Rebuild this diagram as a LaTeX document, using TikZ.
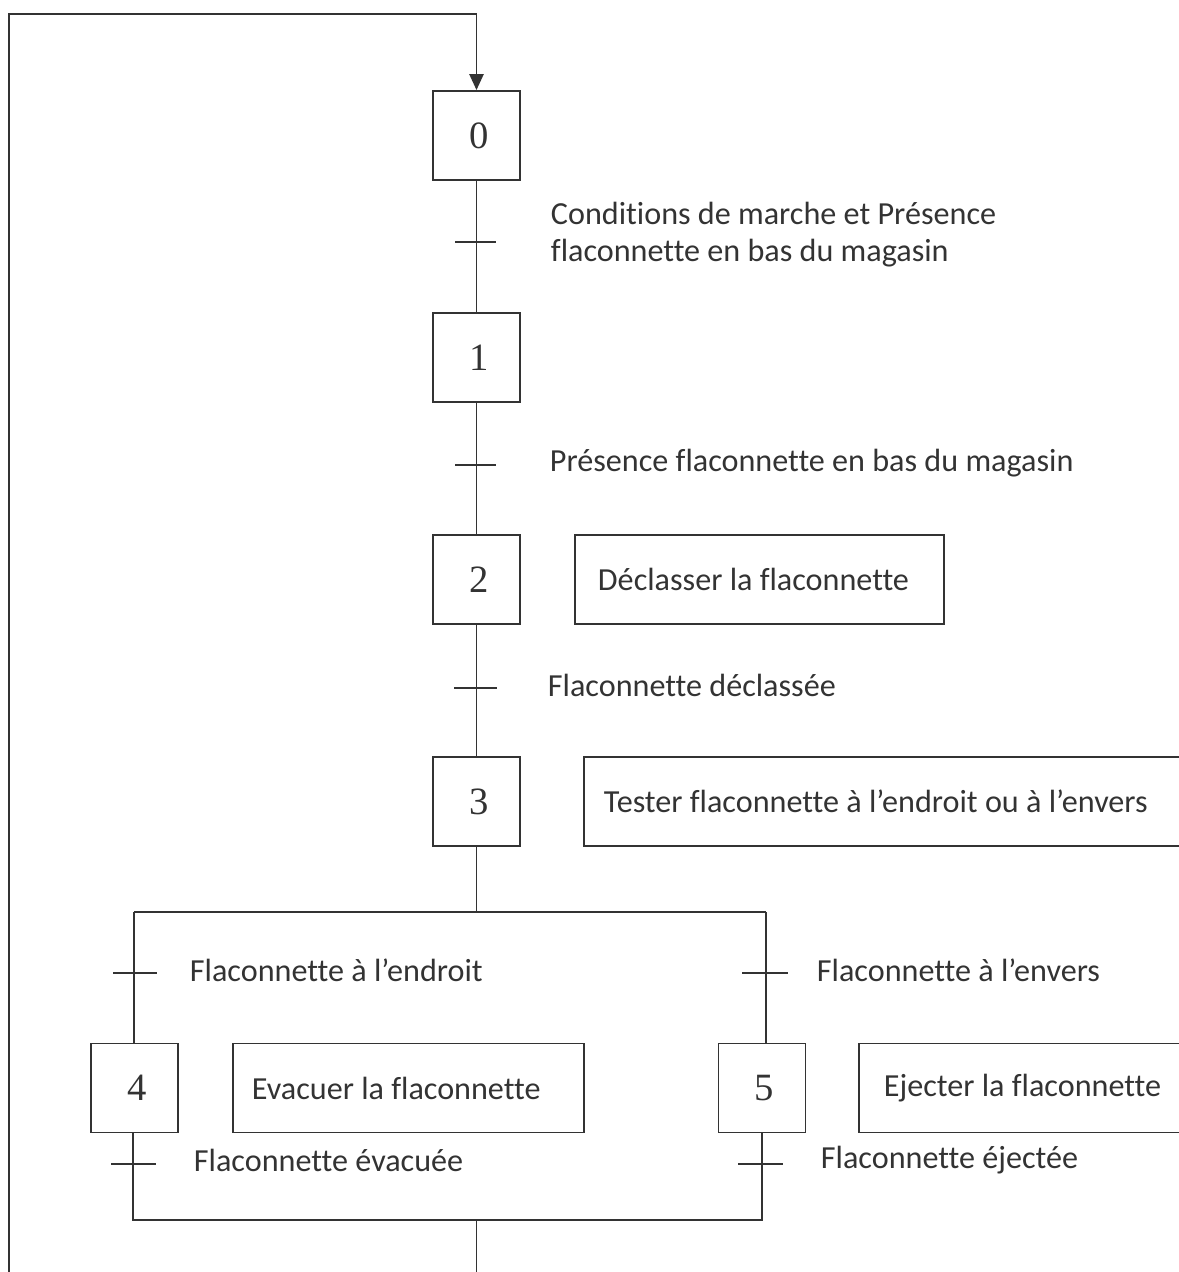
\documentclass[tikz,border=0pt]{standalone}
\usepackage{fontspec}
\setmainfont{Carlito}[Ligatures=CommonOff]
\newfontfamily\numfont{Liberation Serif}
\usetikzlibrary{arrows.meta}
\definecolor{ink}{HTML}{333333}
\begin{document}
\begin{tikzpicture}[x=0.02cm,y=-0.02cm,line width=1.1pt,
  etape/.style={draw=ink,line width=1.1pt,minimum width=1.74cm,minimum height=1.78cm,inner sep=0pt,
     font=\numfont\fontsize{22}{24}\selectfont,text=ink},
  action/.style={draw=ink,line width=1.1pt,minimum height=1.78cm,inner sep=0pt,anchor=west,align=flush left,
     font=\fontsize{18.3}{22}\selectfont,text=ink},
  recept/.style={anchor=west,inner sep=0pt,font=\fontsize{18.3}{21}\selectfont,text=ink,align=left},
  lien/.style={draw=ink,line width=1.1pt},
  tick/.style={line width=1pt,draw=ink}]
\useasboundingbox (0,0) rectangle (1179,1272);
% steps
\node[etape] (s0) at (476.5,135.5) {\hspace*{0.1cm}0};
\node[etape] (s1) at (476.5,357.5) {\hspace*{0.1cm}1};
\node[etape] (s2) at (476.5,579.5) {\hspace*{0.1cm}2};
\node[etape] (s3) at (476.5,801.5) {\hspace*{0.1cm}3};
\node[etape] (s4) at (134.5,1088) {\hspace*{0.1cm}4};
\node[etape] (s5) at (762,1088) {\hspace*{0.1cm}5};
% actions
\node[action,minimum width=7.38cm,text width=7.38cm] (a2) at (574,579.5) {\hspace*{0.46cm}Déclasser la flaconnette};
\node[action,minimum width=12.4cm,text width=12.4cm] (a3) at (583,801.5) {\hspace*{0.4cm}Tester flaconnette à l’endroit ou à l’envers};
\node[action,minimum width=7.02cm,text width=7.02cm] (a4) at (232,1088) {\hspace*{0.38cm}Evacuer la flaconnette};
\node[action,minimum width=7.2cm,text width=7.2cm] (a5) at (858,1088) {\hspace*{0.5cm}Ejecter la flaconnette};
% loop
\coordinate (lb) at (9,1290);
\coordinate (lt) at (9,14);
\draw[lien,-{Triangle[length=9pt,width=8pt]}] (lb) -- (lt) -| (s0.north);
% main sequence
\draw[lien] (s0.south) -- (s1.north);
\draw[lien] (s1.south) -- (s2.north);
\draw[lien] (s2.south) -- (s3.north);
\coordinate (dv) at (476.5,912);
\coordinate (dl) at (134,912);
\coordinate (dr) at (766,912);
\draw[lien] (s3.south) -- (dv);
\draw[lien] (dl) -- (dr);
\draw[lien] (dl) -- (dl |- s4.north);
\draw[lien] (dr) -- (dr |- s5.north);
\coordinate (cl) at (133,1220);
\coordinate (cr) at (762,1220);
\coordinate (cv) at (476.5,1220);
\coordinate (cend) at (476.5,1290);
\draw[lien] (s4.south -| cl) -- (cl) -- (cr) -- (s5.south);
\draw[lien] (cv) -- (cend);
% transitions
\draw[tick] (455,242) -- (496,242);
\draw[tick] (455,465) -- (496,465);
\draw[tick] (454,688) -- (497,688);
\draw[tick] (113,973) -- (157,973);
\draw[tick] (742,973) -- (788,973);
\draw[tick] (111,1164) -- (156,1164);
\draw[tick] (738,1164) -- (783,1164);
% receptivities
\node[recept] (r0) at (550,235) {Conditions de marche et Présence\\flaconnette en bas du magasin};
\node[recept] (r1) at (549,463) {Présence flaconnette en bas du magasin};
\node[recept] (r2) at (547,685) {Flaconnette déclassée};
\node[recept] (r4) at (189,970) {Flaconnette à l’endroit};
\node[recept] (r5) at (816,970) {Flaconnette à l’envers};
\node[recept] (r6) at (193,1160) {Flaconnette évacuée};
\node[recept] (r7) at (820,1160) {Flaconnette éjectée};
\end{tikzpicture}
\end{document}
